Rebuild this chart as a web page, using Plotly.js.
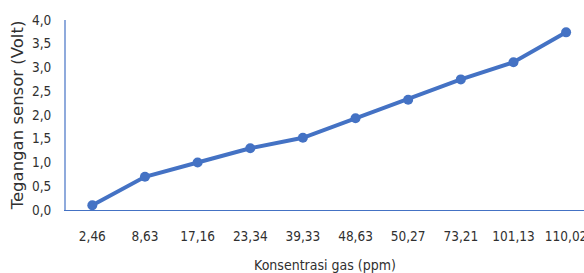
<!DOCTYPE html>
<html><head><meta charset="utf-8">
<script src="https://cdn.plot.ly/plotly-3.0.1.min.js"></script>
<style>html,body{margin:0;padding:0;background:#fff}#c{width:584px;height:273px}</style>
</head><body><div id="c"></div>
<script>
const categories = ["2,46","8,63","17,16","23,34","39,33","48,63","50,27","73,21","101,13","110,02"];
const voltage = [0.10, 0.70, 1.00, 1.30, 1.52, 1.93, 2.32, 2.75, 3.11, 3.74];
const yTickVals = [0,0.5,1,1.5,2,2.5,3,3.5,4];
const yTickText = ["0,0","0,5","1,0","1,5","2,0","2,5","3,0","3,5","4,0"];

const font = "'DejaVu Sans Condensed', sans-serif";
Plotly.newPlot('c', [{
  x: categories, y: voltage, type: 'scatter', mode: 'lines+markers',
  line: {color: '#4472C4', width: 4},
  marker: {color: '#4472C4', size: 10},
  hoverinfo: 'none'
}], {
  width: 584, height: 273,
  margin: {l: 66, r: 0, t: 20, b: 63},
  paper_bgcolor: '#fff', plot_bgcolor: '#fff',
  showlegend: false,
  xaxis: {
    type: 'category', range: [-0.5, 9.34],
    showgrid: false, zeroline: false,
    showline: true, linecolor: '#4472C4', linewidth: 1,
    ticks: '', ticklabelstandoff: 14,
    tickfont: {family: font, size: 13.5, color: '#303030'},
    title: {text: 'Konsentrasi gas (ppm)', font: {family: font, size: 14, color: '#303030'}, standoff: 16}
  },
  yaxis: {
    range: [0, 4], tickvals: yTickVals, ticktext: yTickText,
    showgrid: false, zeroline: false,
    showline: true, linecolor: '#8FAADC', linewidth: 2,
    ticks: '', ticklabelstandoff: 10,
    tickfont: {family: font, size: 13.5, color: '#303030'},
    title: {text: 'Tegangan sensor (Volt)', font: {family: 'DejaVu Sans, sans-serif', size: 16.5, color: '#303030'}, standoff: 4}
  }
}, {displayModeBar: false, staticPlot: true});
</script></body></html>
